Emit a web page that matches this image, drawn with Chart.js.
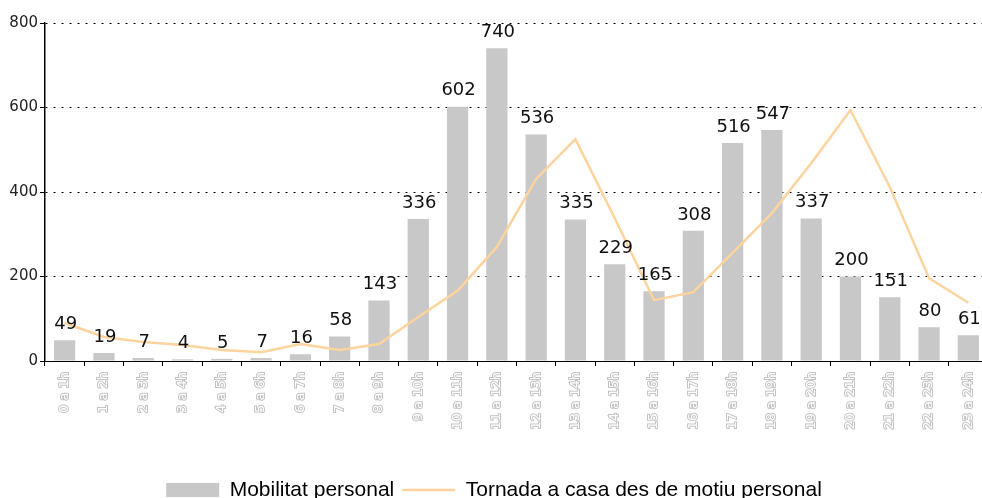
<!DOCTYPE html>
<html>
<head>
<meta charset="utf-8">
<script src="https://cdn.jsdelivr.net/npm/chart.js@4.4.1/dist/chart.umd.min.js"></script>
<style>
    html, body { margin: 0; padding: 0; background: #ffffff; overflow: hidden; }
    #wrap { width: 982px; height: 498px; overflow: hidden; }
</style>
</head>
<body>
<div id="wrap"><canvas id="mobilitatChart" width="989" height="498"></canvas></div>
<script>
const franges = ['0 a 1h', '1 a 2h', '2 a 3h', '3 a 4h', '4 a 5h', '5 a 6h', '6 a 7h', '7 a 8h',
    '8 a 9h', '9 a 10h', '10 a 11h', '11 a 12h', '12 a 13h', '13 a 14h', '14 a 15h', '15 a 16h',
    '16 a 17h', '17 a 18h', '18 a 19h', '19 a 20h', '20 a 21h', '21 a 22h', '22 a 23h', '23 a 24h'];
const mobilitat = [49, 19, 7, 4, 5, 7, 16, 58, 143, 336, 602, 740, 536, 335, 229, 165, 308, 516, 547, 337, 200, 151, 80, 61];
const tornada = [90, 57, 45, 38, 26, 21, 40, 26, 40, 104, 166, 270, 431, 525, 338, 144, 163, 256, 350, 468, 594, 412, 196, 138];
const yTicks = [0, 200, 400, 600, 800];

// value labels on top of each bar
const barLabels = {
    id: 'barLabels',
    afterDatasetsDraw(chart) {
        const ctx = chart.ctx;
        const meta = chart.getDatasetMeta(0);
        ctx.save();
        ctx.font = '18px "DejaVu Sans"';
        ctx.fillStyle = '#111111';
        ctx.textAlign = 'center';
        ctx.textBaseline = 'bottom';
        meta.data.forEach((bar, i) => {
            ctx.fillText(String(mobilitat[i]), bar.x + 1, bar.y - 7);
        });
        ctx.restore();
    }
};

const ctx = document.getElementById('mobilitatChart').getContext('2d');
const chart = new Chart(ctx, {
    type: 'bar',
    data: {
        labels: franges,
        datasets: [
            {
                label: 'Mobilitat personal',
                data: mobilitat,
                backgroundColor: '#c8c8c8',
                borderWidth: 0,
                barPercentage: 1,
                categoryPercentage: 0.54,
                order: 1
            },
            {
                type: 'line',
                label: 'Tornada a casa des de motiu personal',
                data: tornada,
                borderColor: '#fdd39e',
                backgroundColor: '#fdd39e',
                borderWidth: 2.5,
                pointRadius: 0,
                tension: 0,
                fill: false,
                order: 0
            }
        ]
    },
    options: {
        responsive: false,
        animation: false,
        layout: {
            padding: { top: 23, right: 1, left: 0, bottom: -12.5 }
        },
        scales: {
            x: {
                afterFit: scale => {
                    scale.height = 110.5;
                    scale.paddingLeft = 0;
                    scale.paddingRight = 0;
                },
                grid: {
                    display: true,
                    drawOnChartArea: false,
                    drawTicks: true,
                    tickLength: 5,
                    tickColor: '#000000',
                    offset: true
                },
                border: { display: true, color: '#000000', width: 1 },
                ticks: {
                    autoSkip: false,
                    minRotation: 90,
                    maxRotation: 90,
                    padding: 6,
                    color: '#ffffff',
                    textStrokeColor: '#c4c4c4',
                    textStrokeWidth: 2,
                    font: { family: 'DejaVu Sans', size: 13 }
                }
            },
            y: {
                min: 0,
                max: 800,
                afterFit: scale => { scale.width = 45; },
                afterBuildTicks: scale => { scale.ticks = yTicks.map(v => ({ value: v })); },
                grid: {
                    color: '#000000',
                    lineWidth: 1,
                    drawTicks: true,
                    tickLength: 5,
                    tickColor: '#000000',
                    tickBorderDash: []
                },
                border: { display: true, color: '#000000', width: 1.5, dash: [2, 6] },
                ticks: {
                    padding: 2,
                    color: '#222222',
                    font: { family: 'DejaVu Sans', size: 15 }
                }
            }
        },
        plugins: {
            title: { display: false },
            tooltip: { enabled: false },
            legend: {
                display: true,
                position: 'bottom',
                labels: {
                    color: '#000000',
                    font: { family: 'Liberation Sans', size: 21 },
                    padding: 8,
                    boxWidth: 53,
                    boxHeight: 14,
                    usePointStyle: true,
                    pointStyleWidth: 53,
                    generateLabels: c => c.data.datasets.map((ds, i) => ({
                        text: ds.label,
                        datasetIndex: i,
                        fillStyle: i === 0 ? ds.backgroundColor : 'rgba(0,0,0,0)',
                        strokeStyle: i === 0 ? ds.backgroundColor : ds.borderColor,
                        lineWidth: i === 0 ? 0 : 2.5,
                        pointStyle: i === 0 ? 'rect' : 'line',
                        fontColor: '#000000',
                        hidden: false
                    }))
                }
            }
        }
    },
    plugins: [barLabels]
});
</script>
</body>
</html>
